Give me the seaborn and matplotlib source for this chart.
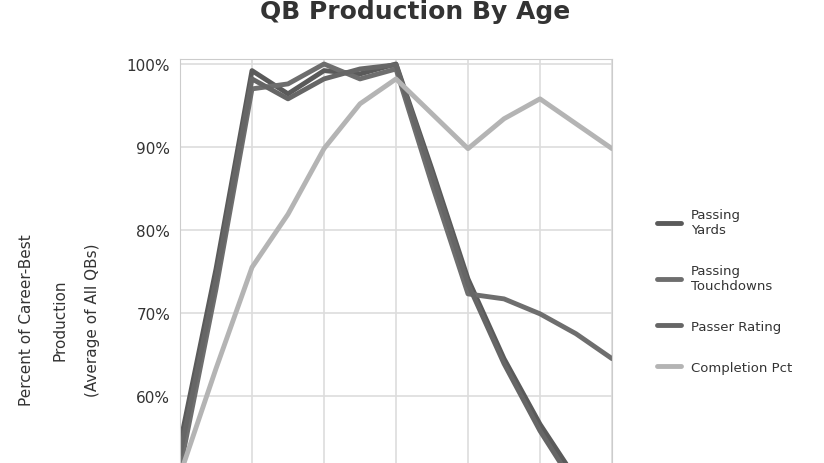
import matplotlib
matplotlib.use("Agg")
import matplotlib.pyplot as plt
import seaborn as sns
import pandas as pd

ages = [21, 22, 23, 24, 25, 26, 27, 28, 29, 30, 31, 32, 33]

passing_yards = [54.2, 75.3, 99.2, 96.4, 99.2, 98.8, 100.0, 87.3, 74.1, 64.5, 56.6, 50.0, 44.0]
passing_tds = [51.2, 72.9, 97.0, 97.6, 100.0, 98.2, 99.4, 85.5, 72.3, 71.7, 69.9, 67.5, 64.5]
passer_rating = [53.0, 74.1, 98.2, 95.8, 98.2, 99.4, 99.9, 86.7, 73.5, 63.9, 55.8, 49.0, 43.4]
completion_pct = [50.5, 63.3, 75.5, 81.9, 89.8, 95.2, 98.2, 94.0, 89.8, 93.4, 95.8, 92.8, 89.8]

labels = ["Passing\nYards", "Passing\nTouchdowns", "Passer Rating", "Completion Pct"]
colors = ["#5a5a5a", "#6e6e6e", "#666666", "#b4b4b4"]

# only the ticks that fall inside the visible part of the figure
y_ticks = [60, 70, 80, 90, 100]
x_ticks = [21, 23, 25, 27, 29, 31, 33]

frames = []
for lab, vals in zip(labels, [passing_yards, passing_tds, passer_rating, completion_pct]):
    frames.append(pd.DataFrame({"Age": ages, "Pct": vals, "Stat": lab}))
df = pd.concat(frames, ignore_index=True)

sns.set_style("whitegrid")
plt.rcParams["font.family"] = ["DejaVu Sans"]

fig = plt.figure(figsize=(8.24, 4.64), dpi=100)
# the plot runs past the bottom edge, as in the reference
ax = fig.add_axes([180 / 824, (464 - 563) / 464, 432 / 824, (563 - 60) / 464])

sns.lineplot(data=df, x="Age", y="Pct", hue="Stat", palette=colors,
             linewidth=3.5, ax=ax, legend=False)

ax.set_xlim(21, 33)
ax.set_ylim(40, 100.6)
ax.set_xticks(x_ticks)
ax.set_xticklabels([])
ax.set_yticks(y_ticks)
ax.set_yticklabels([f"{t}%" for t in y_ticks], fontsize=11, color="#333333")
ax.set_xlabel("")
ax.set_ylabel("")
ax.grid(color="#dddddd", linewidth=1.2)
for s in ax.spines.values():
    s.set_color("#cccccc")

fig.text(415 / 824, 1 - 12 / 464, "QB Production By Age", ha="center", va="center",
         fontsize=18, fontweight="bold", color="#333333")

fig.text(60 / 824, 1 - 320 / 464,
         "Percent of Career-Best\nProduction\n(Average of All QBs)",
         rotation=90, ha="center", va="center", multialignment="center",
         fontsize=11, linespacing=2.5, color="#333333")

handles = [plt.Line2D([], [], color=c, linewidth=3.5) for c in colors]
fig.legend(handles, labels, loc="center left",
           bbox_to_anchor=(645 / 824, 1 - 292 / 464), frameon=False,
           fontsize=9.5, labelspacing=2.1, handlelength=1.8, labelcolor="#333333")

fig.savefig("out.png", dpi=100)
